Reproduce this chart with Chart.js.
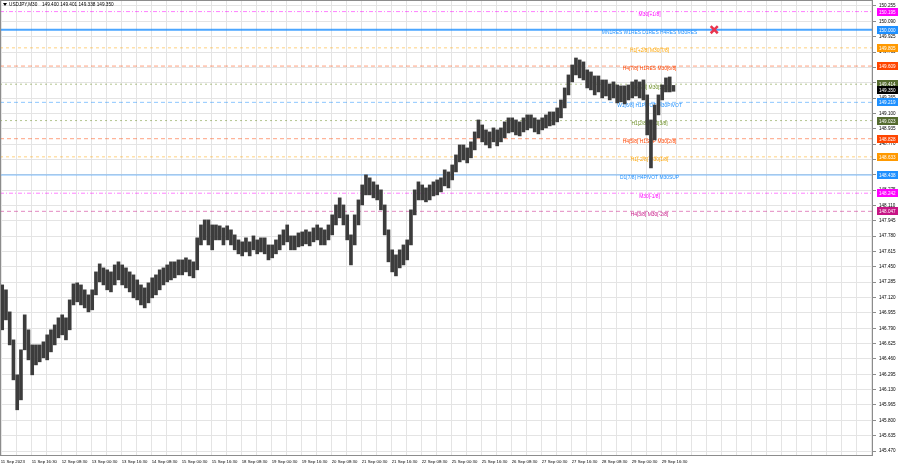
<!DOCTYPE html>
<html>
<head>
<meta charset="utf-8">
<script src="https://cdn.jsdelivr.net/npm/chart.js@4.4.0/dist/chart.umd.min.js"></script>
<style>
  html, body { margin: 0; padding: 0; background: #fff; }
  canvas { display: block; }
</style>
</head>
<body>
<canvas id="chart" width="900" height="468"></canvas>
<script>
// ── Data ───────────────────────────────────────────────────────────────────
// USDJPY M30, one drawn column per 4 bars (high / low of the group)
const barsPerColumn = 4;
const columnHigh = [
  147.256, 147.203, 146.966, 146.665, 146.289, 146.558, 146.934, 146.773, 146.611, 146.611,
  146.611, 146.644, 146.719, 146.773, 146.826, 146.902, 146.934, 146.902, 147.095, 147.267,
  147.278, 147.256, 147.203, 147.149, 147.203, 147.396, 147.482, 147.439, 147.418, 147.396,
  147.471, 147.504, 147.471, 147.439, 147.396, 147.364, 147.310, 147.256, 147.224, 147.278,
  147.332, 147.364, 147.418, 147.439, 147.471, 147.504, 147.504, 147.525, 147.525, 147.547,
  147.525, 147.504, 147.762, 147.901, 147.955, 147.955, 147.901, 147.901, 147.891, 147.869,
  147.891, 147.848, 147.794, 147.740, 147.719, 147.762, 147.719, 147.783, 147.740, 147.762,
  147.762, 147.686, 147.686, 147.740, 147.794, 147.848, 147.901, 147.783, 147.783, 147.815,
  147.826, 147.848, 147.826, 147.869, 147.901, 147.869, 147.848, 147.901, 148.009, 148.116,
  148.192, 148.116, 148.009, 147.794, 148.009, 148.170, 148.331, 148.439, 148.407, 148.364,
  148.331, 148.278, 148.116, 147.848, 147.633, 147.579, 147.633, 147.686, 147.740, 148.063,
  148.278, 148.364, 148.331, 148.299, 148.331, 148.364, 148.385, 148.407, 148.493, 148.471,
  148.546, 148.654, 148.761, 148.761, 148.729, 148.794, 148.901, 149.030, 148.976, 148.923,
  148.901, 148.944, 148.923, 148.944, 149.009, 149.052, 149.052, 149.030, 149.009, 149.052,
  149.084, 149.084, 149.052, 149.030, 149.052, 149.084, 149.116, 149.116, 149.159, 149.245,
  149.374, 149.514, 149.621, 149.696, 149.675, 149.654, 149.568, 149.546, 149.503, 149.503,
  149.460, 149.460, 149.417, 149.439, 149.406, 149.396, 149.396, 149.406, 149.439, 149.460,
  149.439, 149.460, 149.299, 149.030, 149.191, 149.299, 149.406, 149.482, 149.492, 149.401
];
const columnLow = [
  146.773, 146.880, 146.611, 146.235, 145.913, 146.020, 146.558, 146.450, 146.289, 146.396,
  146.429, 146.472, 146.450, 146.536, 146.611, 146.687, 146.719, 146.665, 146.773, 147.041,
  147.074, 147.041, 147.009, 146.966, 146.988, 147.149, 147.289, 147.256, 147.203, 147.181,
  147.256, 147.310, 147.256, 147.224, 147.181, 147.117, 147.095, 147.041, 147.009, 147.063,
  147.117, 147.149, 147.203, 147.256, 147.289, 147.310, 147.332, 147.364, 147.364, 147.396,
  147.353, 147.332, 147.418, 147.686, 147.740, 147.686, 147.633, 147.740, 147.740, 147.686,
  147.740, 147.686, 147.633, 147.590, 147.568, 147.611, 147.568, 147.633, 147.590, 147.611,
  147.590, 147.525, 147.547, 147.590, 147.633, 147.686, 147.719, 147.633, 147.633, 147.665,
  147.676, 147.697, 147.676, 147.719, 147.740, 147.686, 147.686, 147.740, 147.794, 147.901,
  147.977, 147.901, 147.740, 147.471, 147.686, 147.901, 148.116, 148.224, 148.224, 148.192,
  148.170, 148.063, 147.794, 147.504, 147.396, 147.353, 147.439, 147.471, 147.525, 147.686,
  148.009, 148.170, 148.170, 148.149, 148.170, 148.213, 148.224, 148.256, 148.321, 148.299,
  148.385, 148.471, 148.579, 148.600, 148.568, 148.622, 148.708, 148.837, 148.794, 148.761,
  148.729, 148.794, 148.751, 148.794, 148.837, 148.890, 148.901, 148.869, 148.858, 148.901,
  148.923, 148.944, 148.901, 148.880, 148.923, 148.944, 148.966, 148.976, 149.009, 149.052,
  149.159, 149.299, 149.439, 149.514, 149.482, 149.460, 149.374, 149.353, 149.299, 149.331,
  149.267, 149.288, 149.245, 149.267, 149.213, 149.224, 149.202, 149.245, 149.267, 149.288,
  149.267, 149.245, 148.869, 148.514, 148.815, 149.084, 149.245, 149.331, 149.331, 149.338
];

// time axis: bar index of each label (bar 0 = 11 Sep 00:00)
const timeLabelBars = [0, 33, 65, 97, 129, 161, 193, 225, 257, 289, 321, 353,
  385, 417, 449, 481, 513, 545, 577, 609, 641, 673, 705];
const timeLabels = ['11 Sep 2023', '11 Sep 16:30', '12 Sep 08:30', '13 Sep 00:30', '13 Sep 16:30',
  '14 Sep 08:30', '15 Sep 00:30', '15 Sep 16:30', '18 Sep 08:30', '19 Sep 00:30', '19 Sep 16:30',
  '20 Sep 08:30', '21 Sep 00:30', '21 Sep 16:30', '22 Sep 08:30', '25 Sep 00:30', '25 Sep 16:30',
  '26 Sep 08:30', '27 Sep 00:30', '27 Sep 16:30', '28 Sep 08:30', '29 Sep 00:30', '29 Sep 16:30'];

const priceTicks = [145.470, 145.635, 145.800, 145.965, 146.130, 146.295, 146.460, 146.625,
  146.790, 146.955, 147.120, 147.285, 147.450, 147.615, 147.780, 147.945, 148.110, 148.275,
  148.440, 148.605, 148.770, 148.935, 149.100, 149.265, 149.430, 149.595, 149.760, 149.925,
  150.090, 150.255];

// Murrey-style levels drawn across the chart
const levelPrices = [150.195, 150.000, 149.805, 149.609, 149.414, 149.219,
  149.023, 148.828, 148.633, 148.438, 148.242, 148.047];
const levelNames = ['M30[+1/8]', 'MN1RES W1RES D1RES H4RES M30RES', 'H1[+2/8] M30[7/8]',
  'H4[7/8] H1RES M30[6/8]', 'H4[6/8] M30[5/8]', 'W1[6/8] H1PIVOT M30PIVOT', 'H1[2/8] M30[3/8]',
  'H4[5/8] H1SUP M30[2/8]', 'H1[-2/8] M30[1/8]', 'D1[7/8] H4PIVOT M30SUP', 'M30[-1/8]',
  'H4[3/8] M30[-2/8]'];

const symbolName = 'USDJPY,M30';
const quote = ['149.400', '149.401', '149.338', '149.350'];
const lastPrice = 149.350;

const markerBar = [761];
const markerPrice = [150.000];

// ── Styles ─────────────────────────────────────────────────────────────────
const levelStyles = [
  { color: '#ff00ff', width: 1, dash: [4, 2, 1, 2], alpha: 0.5 },
  { color: '#1e90ff', width: 2, dash: [], alpha: 0.8 },
  { color: '#ffa500', width: 1, dash: [3, 3], alpha: 0.5 },
  { color: '#ff4500', width: 1, dash: [4, 3], alpha: 0.5 },
  { color: '#6b8e23', width: 1, dash: [2, 3], alpha: 0.5 },
  { color: '#1e90ff', width: 1, dash: [4, 3], alpha: 0.5 },
  { color: '#6b8e23', width: 1, dash: [2, 3], alpha: 0.5 },
  { color: '#ff4500', width: 1, dash: [4, 3], alpha: 0.5 },
  { color: '#ffa500', width: 1, dash: [3, 3], alpha: 0.5 },
  { color: '#1e90ff', width: 1, dash: [], alpha: 0.6 },
  { color: '#ff00ff', width: 1, dash: [4, 2, 1, 2], alpha: 0.5 },
  { color: '#c71585', width: 1, dash: [4, 3], alpha: 0.5 },
];
const boxColors = ['#ff00ff', '#1e90ff', '#ff9900', '#ff4500', '#556b2f', '#1e90ff',
  '#556b2f', '#ff4500', '#ff9900', '#1e90ff', '#ff00ff', '#c71585'];

const FONT = '"Liberation Sans", Arial, sans-serif';
const X_MIN = -0.85;
const X_MAX = 930.35;

function hexA(hex, a) {
  const n = parseInt(hex.slice(1), 16);
  return `rgba(${(n >> 16) & 255},${(n >> 8) & 255},${n & 255},${a})`;
}

// ── Datasets ───────────────────────────────────────────────────────────────
const priceData = columnHigh.map((h, i) => ({
  x: i * barsPerColumn + (barsPerColumn - 1) / 2,
  y: [columnLow[i], h],
}));

const levelDatasets = levelPrices.map((p, i) => ({
  type: 'line',
  data: [{ x: X_MIN, y: p }, { x: X_MAX, y: p }],
  borderColor: hexA(levelStyles[i].color, levelStyles[i].alpha),
  borderWidth: levelStyles[i].width,
  borderDash: levelStyles[i].dash,
  pointRadius: 0,
  order: 2,
}));

// ── Plugin: level captions, price boxes, frame, header ────────────────────
const mtOverlay = {
  id: 'mtOverlay',
  beforeDatasetsDraw(chart) {
    const ctx = chart.ctx, y = chart.scales.y, x = chart.scales.x;
    ctx.save();
    ctx.font = `4.9px ${FONT}`;
    ctx.textAlign = 'center';
    ctx.textBaseline = 'middle';
    const cx = x.getPixelForValue(692);
    levelPrices.forEach((p, i) => {
      ctx.fillStyle = levelStyles[i].color;
      ctx.fillText(levelNames[i], cx, y.getPixelForValue(p) + 3);
    });
    ctx.restore();
  },
  afterDraw(chart) {
    const ctx = chart.ctx, y = chart.scales.y, a = chart.chartArea;
    ctx.save();
    // frame
    ctx.strokeStyle = '#8c8c8c';
    ctx.lineWidth = 1;
    ctx.strokeRect(a.left + 0.5, a.top + 0.5, a.right - a.left - 1, a.bottom - a.top);

    // price boxes on the right axis
    ctx.font = `4.6px ${FONT}`;
    ctx.textBaseline = 'middle';
    ctx.textAlign = 'left';
    const box = (p, bg) => {
      const py = Math.round(y.getPixelForValue(p));
      ctx.fillStyle = bg;
      ctx.fillRect(a.right + 4, py - 4, 21, 8);
      ctx.fillStyle = '#fff';
      ctx.fillText(p.toFixed(3), a.right + 6, py + 0.5);
    };
    levelPrices.forEach((p, i) => box(p, boxColors[i]));
    box(lastPrice, '#000');

    // header
    ctx.fillStyle = '#000';
    ctx.beginPath();
    ctx.moveTo(3, 3); ctx.lineTo(7, 3); ctx.lineTo(5, 6); ctx.closePath();
    ctx.fill();
    ctx.font = `4.7px ${FONT}`;
    ctx.fillText(symbolName, 9, 5);
    ctx.fillText(quote.join(' '), 42, 5);
    ctx.restore();
  },
};

const labelByBar = {};
timeLabelBars.forEach((b, i) => { labelByBar[b] = timeLabels[i]; });

new Chart(document.getElementById('chart'), {
  type: 'bar',
  data: {
    datasets: [
      {
        type: 'bar',
        data: priceData,
        backgroundColor: '#3c3c3c',
        barThickness: 3,
        order: 1,
      },
      ...levelDatasets,
      {
        type: 'scatter',
        data: markerBar.map((b, i) => ({ x: b, y: markerPrice[i] })),
        pointStyle: 'crossRot',
        pointRadius: 5,
        borderWidth: 2.5,
        borderColor: '#e8344e',
        order: 0,
      },
    ],
  },
  options: {
    responsive: false,
    animation: false,
    devicePixelRatio: 1,
    layout: { padding: 0, autoPadding: false },
    plugins: { legend: { display: false }, tooltip: { enabled: false } },
    scales: {
      x: {
        type: 'linear',
        offset: false,
        min: X_MIN,
        max: X_MAX,
        afterFit: (s) => {
          s.height = 13;
          s.paddingLeft = 0; s.paddingRight = 0;
        },
        afterBuildTicks: (s) => {
          const t = [{ value: 0 }];
          for (let b = 1; b <= 929; b += 16) t.push({ value: b });
          s.ticks = t;
        },
        grid: { color: '#e4e4e4', drawTicks: false, offset: false },
        border: { display: false },
        ticks: {
          autoSkip: false,
          maxRotation: 0,
          align: 'start',
          padding: 4,
          color: '#000',
          font: { family: FONT, size: 4.3 },
          callback: (v) => labelByBar[v] || '',
        },
      },
      y: {
        type: 'linear',
        position: 'right',
        min: 145.427,
        max: 150.3195,
        afterFit: (s) => {
          s.width = 27;
          s.paddingTop = 0; s.paddingBottom = 0;
        },
        afterBuildTicks: (s) => { s.ticks = priceTicks.map(v => ({ value: v })); },
        grid: { color: '#e4e4e4', tickColor: '#8c8c8c', tickLength: 3 },
        border: { display: false },
        ticks: {
          padding: 3,
          color: '#000',
          font: { family: FONT, size: 4.6 },
          callback: (v) => Number(v).toFixed(3),
        },
      },
    },
  },
  plugins: [mtOverlay],
});
</script>
</body>
</html>
